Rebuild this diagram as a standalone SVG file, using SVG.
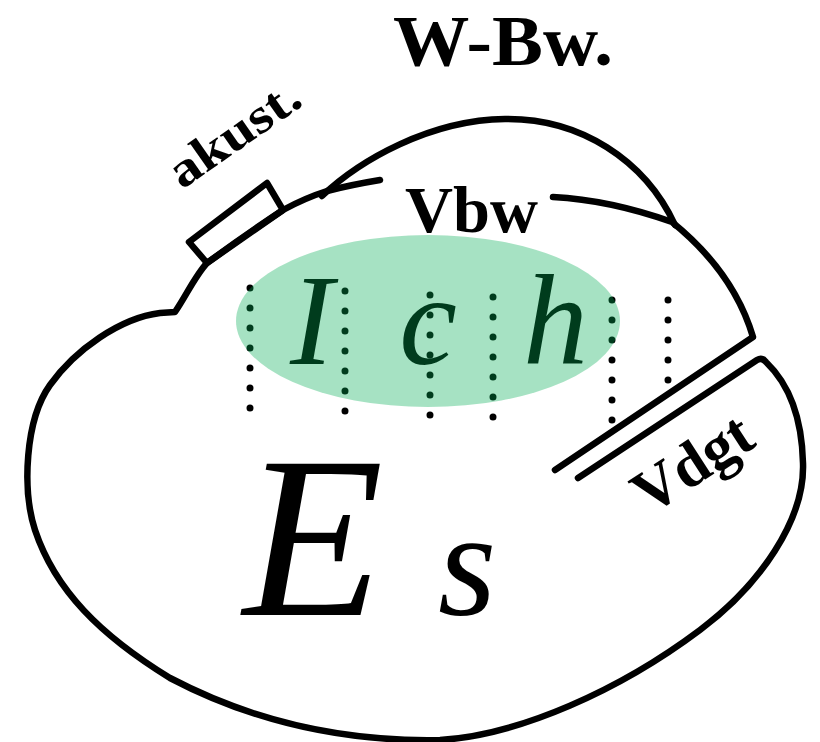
<svg xmlns="http://www.w3.org/2000/svg" width="820" height="742" viewBox="0 0 820 742">
<style>
.ln{fill:none;stroke:#000;stroke-width:6.5;stroke-linecap:round;stroke-linejoin:round}
.dots{fill:none;stroke:#000;stroke-width:7;stroke-linecap:round;stroke-dasharray:0 20}
.lab{font-family:"Liberation Serif","Times New Roman",serif;font-weight:bold;fill:#000}
.script{font-family:"Liberation Serif","Times New Roman",serif;font-style:italic;fill:#000}
</style>
<rect width="820" height="742" fill="#fff"/>
<g id="outline">
<path class="ln" d="M380,180 Q350,185 327,191 Q305,198 283,210 Q245,235 207,263 C195,276 186,296 175,312 L160,313 C120,318 75,350 50,385 C25,420 22,490 35,530 C55,590 100,635 170,678 C250,720 340,742 440,740 C520,735 620,690 700,630 C760,585 805,520 803,463 C802,420 790,385 766,362 Q762,357 757,360 L578,478"/>
<path class="ln" d="M555,470 L753,337 C745,310 725,265 672,222 Q610,200 553,197"/>
<path class="ln" d="M322,196 C360,160 430,120 505,119 C580,118 645,160 675,225"/>
</g>
<g id="akust-box">
<polygon class="ln" points="189,242 267,183 283,210 207,263"/>
</g>
<g id="dotted-lines">
<line class="dots" x1="250" y1="288" x2="250" y2="409"/>
<line class="dots" x1="345" y1="291" x2="345" y2="412"/>
<line class="dots" x1="430" y1="295" x2="430" y2="416"/>
<line class="dots" x1="493" y1="297" x2="493" y2="418"/>
<line class="dots" x1="612" y1="300" x2="612" y2="421"/>
<line class="dots" x1="668" y1="300" x2="668" y2="381"/>
</g>
<g id="es">
<text class="script" x="243" y="615"><tspan font-size="230">E</tspan><tspan x="438" font-size="150">s</tspan></text>
</g>
<g id="ich">
<text class="script" x="290" y="364" font-size="130" textLength="298" lengthAdjust="spacing">Ich</text>
<ellipse cx="428" cy="321" rx="192" ry="86" fill="#00ab53" fill-opacity="0.35"/>
</g>
<g id="labels">
<text class="lab" x="393" y="65" font-size="72" textLength="220" lengthAdjust="spacingAndGlyphs">W-Bw.</text>
<text class="lab" x="405" y="232" font-size="66" textLength="133" lengthAdjust="spacingAndGlyphs">Vbw</text>
<text class="lab" transform="translate(182,190) rotate(-35)" font-size="50" textLength="150" lengthAdjust="spacingAndGlyphs">akust.</text>
<text class="lab" transform="translate(649,516) rotate(-33)" font-size="62" textLength="130" lengthAdjust="spacingAndGlyphs">Vdgt</text>
</g>
</svg>
